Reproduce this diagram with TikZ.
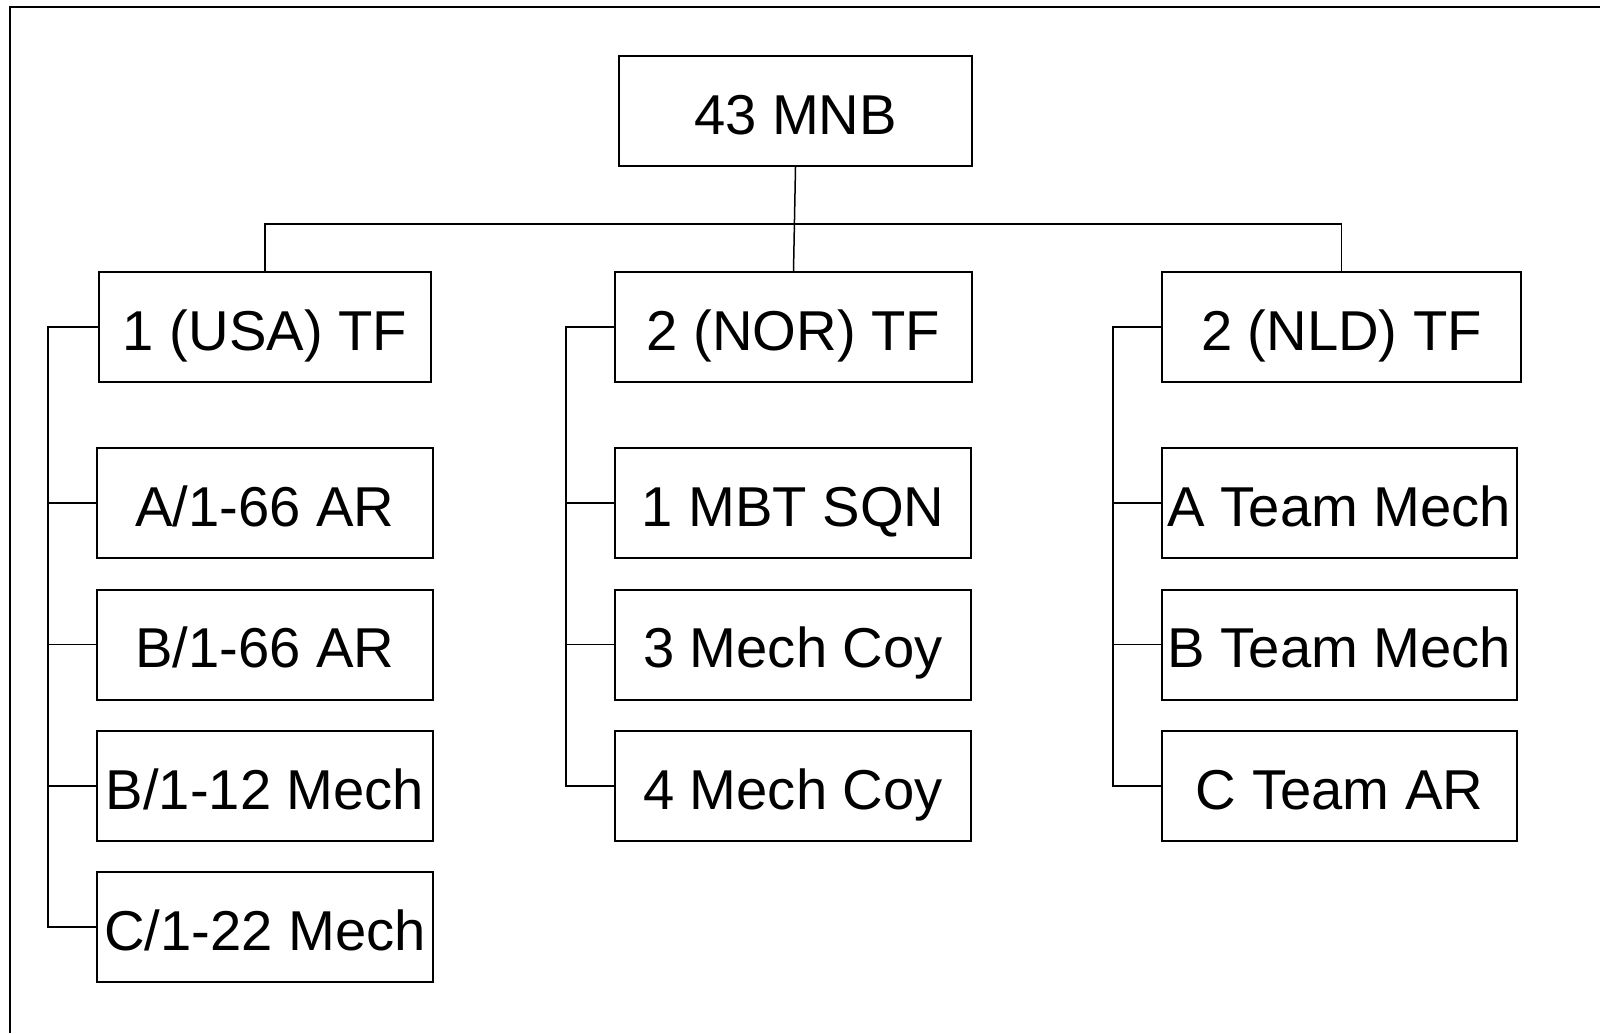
\documentclass[tikz,border=0pt]{standalone}
\usepackage{fontspec}
\setmainfont{Liberation Sans}
\usetikzlibrary{calc,positioning}
\begin{document}
\begin{tikzpicture}[x=0.5pt,y=-0.5pt,
every node/.style={draw,line width=1pt,minimum height=55pt,inner sep=0pt,
text height=23pt,text depth=0pt,font=\fontsize{28.1}{33}\selectfont},
lcol/.style={minimum width=168pt},
mcol/.style={minimum width=178pt},
rcol/.style={minimum width=177.5pt}]
\useasboundingbox (0,0) rectangle (1600,1033);
\draw[line width=1pt] (10,1033)--(10,7)--(1600,7);
\node[minimum width=176.5pt] (MNB) at (795.5,111) {43 MNB};
\node[minimum width=166pt] (USA) at (265,327) {1 (USA) TF};
\node[minimum width=178.5pt] (NOR) at (793.5,327) {2 (NOR) TF};
\node[minimum width=179.5pt] (NLD) at (1341.5,327) {2 (NLD) TF};
\node[lcol] (U1) at (265,503) {A/1-66 AR};
\node[lcol] (U2) at (265,644.5) {B/1-66 AR};
\node[lcol] (U3) at (265,786) {B/1-12 Mech};
\node[lcol] (U4) at (265,927) {C/1-22 Mech};
\node[mcol] (N1) at (793,503) {1 MBT SQN};
\node[mcol] (N2) at (793,644.5) {3 Mech Coy};
\node[mcol] (N3) at (793,786) {4 Mech Coy};
\node[rcol] (D1) at (1339.5,503) {A Team Mech};
\node[rcol] (D2) at (1339.5,644.5) {B Team Mech};
\node[rcol] (D3) at (1339.5,786) {C Team AR};
\coordinate (bus) at (795,224);
\draw[line width=0.75pt] (MNB.south)--(NOR.north);
\draw[line width=0.75pt] (USA.north) |- (bus) -| (NLD.north);
\foreach \k in {U1,U2,U3,U4}
  \draw[line width=0.75pt] (USA.west)--++(-50,0) |- (\k.west);
\foreach \k in {N1,N2,N3}
  \draw[line width=0.75pt] (NOR.west)--++(-48,0) |- (\k.west);
\foreach \k in {D1,D2,D3}
  \draw[line width=0.75pt] (NLD.west)--++(-48,0) |- (\k.west);
\end{tikzpicture}
\end{document}
